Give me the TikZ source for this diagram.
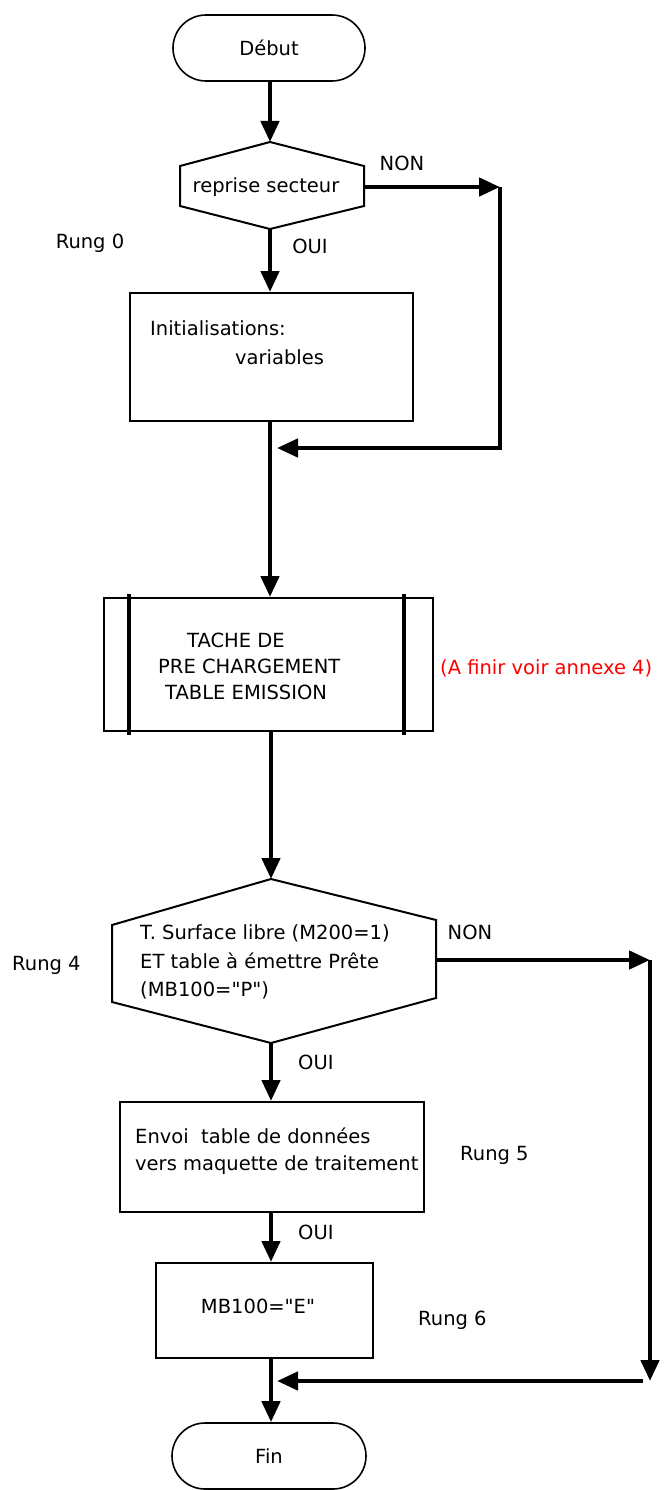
\documentclass[tikz,border=0pt]{standalone}
\usepackage{fontspec}
\setmainfont{DejaVu Sans}[Ligatures=TeXOff]
\usetikzlibrary{arrows.meta}
\begin{document}
\begin{tikzpicture}[x=1pt,y=-1pt,
  every node/.style={font=\fontsize{19.5}{23}\selectfont, inner sep=0pt},
  flow/.style={line width=4.5pt, -{Triangle[length=21pt,width=18pt]}},
  flowline/.style={line width=4.5pt},
  boxline/.style={line width=2pt},
  termbox/.style={draw, line width=1.6pt, rounded corners=33pt, minimum width=192pt, minimum height=66pt},
  procbox/.style={draw, line width=2pt},
  lbl/.style={anchor=west},
  redlbl/.style={anchor=west, text=red}
]
\useasboundingbox (0,0) rectangle (664,1490);
\fill[white] (0,0) rectangle (664,1490);

% Debut
\node[termbox] (debut) at (269,48) {Début};

% Hexagon 1
\coordinate (h1t) at (270,142);
\coordinate (h1b) at (270,229);
\coordinate (h1e) at (364,187);
\draw[boxline] (h1t) -- (364,166) -- (364,206) -- (h1b) -- (180,206) -- (180,166) -- cycle;
\node (h1txt) at (266,187) {reprise secteur};
\node (non1) at (402,163) {NON};
\node (oui1) at (310,246) {OUI};
\node (rung0) at (90,243) {Rung 0};

% Rect 1
\node[procbox, minimum width=283pt, minimum height=128pt] (init) at (271.5,357) {};
\node[lbl] (init1) at (150,328) {Initialisations:};
\node[lbl] (init2) at (235,357) {variables};

% Box 2 (predefined process)
\node[procbox, minimum width=329pt, minimum height=133pt] (tache) at (268.5,664.5) {};
\draw[line width=4pt] ([xshift=26pt,yshift=3pt]tache.north west) -- ([xshift=26pt,yshift=-3pt]tache.south west);
\draw[line width=4pt] ([xshift=-30pt,yshift=3pt]tache.north east) -- ([xshift=-30pt,yshift=-3pt]tache.south east);
\node[lbl] (t1) at (187,640) {TACHE DE};
\node[lbl] (t2) at (158,666) {PRE CHARGEMENT};
\node[lbl] (t3) at (165,692) {TABLE EMISSION};
\node[redlbl] (note) at (440,668) {(A finir voir annexe 4)};

% Hexagon 2
\coordinate (h2t) at (271,879);
\coordinate (h2b) at (271,1043);
\coordinate (h2e) at (436,960);
\draw[boxline] (h2t) -- (436,920) -- (436,998) -- (h2b) -- (112,1002) -- (112,925) -- cycle;
\node[lbl] (c1) at (140,933) {T. Surface libre (M200=1)};
\node[lbl] (c2) at (140,961) {ET table à émettre Prête};
\node[lbl] (c3) at (140,990) {(MB100="P")};
\node (non2) at (470,932) {NON};
\node[lbl] (rung4) at (12,965) {Rung 4};
\node[lbl] (oui2) at (298,1062) {OUI};

% Box 3
\node[procbox, minimum width=304pt, minimum height=110pt] (envoi) at (272,1157) {};
\node[lbl] (e1) at (135,1136) {Envoi\ \ table de données};
\node[lbl] (e2) at (135,1165) {vers maquette de traitement};
\node[lbl] (rung5) at (460,1155) {Rung 5};
\node[lbl] (oui3) at (298,1232) {OUI};

% Box 4
\node[procbox, minimum width=217pt, minimum height=95pt] (mb) at (264.5,1310.5) {};
\node (mbt) at (258,1306) {MB100="E"};
\node[lbl] (rung6) at (418,1320) {Rung 6};

% Fin
\node[termbox, minimum width=194pt] (fin) at (269,1456) {Fin};

% Coordinates for connectors
\coordinate (r1) at (500,187);
\coordinate (r1b) at (500,448);
\coordinate (j1) at (277,448);
\coordinate (r2) at (650,960);
\coordinate (r2b) at (650,1381);
\coordinate (r2c) at (643,1381);
\coordinate (j2) at (277,1381);

% Connectors
\draw[flow] (debut.south -| h1t) -- (h1t);
\draw[flow] (h1e) -- (r1);
\draw[flow] (r1) -- (r1b) -- (j1);
\draw[flow] (h1b) -- (init.north -| h1b);
\draw[flow] (init.south -| h1b) -- (tache.north -| h1b);
\draw[flow] (tache.south -| h2t) -- (h2t);
\draw[flow] (h2e) -- (r2);
\draw[flow] (r2) -- (r2b);
\draw[flow] (r2c) -- (j2);
\draw[flow] (h2b) -- (envoi.north -| h2b);
\draw[flow] (envoi.south -| h2b) -- (mb.north -| h2b);
\draw[flow] (mb.south -| h2b) -- (fin.north -| h2b);
\end{tikzpicture}
\end{document}
